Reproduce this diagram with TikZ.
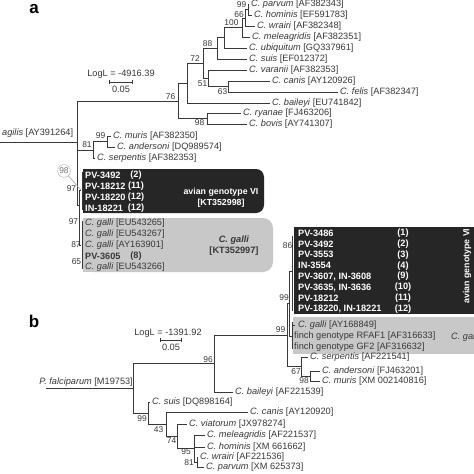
\documentclass[tikz,border=0pt]{standalone}
\usepackage{fontspec}
\setmainfont{Liberation Sans}
\usetikzlibrary{calc,arrows.meta}
\definecolor{treeInk}{HTML}{383838}
\definecolor{avianDark}{HTML}{262626}
\definecolor{galliGray}{HTML}{C8C8C8}
\newcommand{\spc}[2]{\textit{C. #1} [#2]}
\tikzset{
  branch/.style={draw=treeInk, line width=0.8pt},
  leaf/.style={anchor=west, inner sep=0pt, text=treeInk, font=\fontsize{9.2}{11}\selectfont},
  boot/.style={inner sep=0pt, text=treeInk, font=\fontsize{8.4}{10}\selectfont},
  rowlight/.style={anchor=west, inner sep=0pt, text=white, font=\fontsize{9.2}{11}\selectfont\bfseries},
  rowcount/.style={inner sep=0pt, text=white, font=\fontsize{9.2}{11}\selectfont\bfseries},
  panel/.style={inner sep=0pt, text=black, font=\fontsize{17}{17}\selectfont\bfseries},
  scalebar/.style={draw=treeInk, line width=0.8pt, {Bar[width=4pt]}-{Bar[width=4pt]}}
}
\begin{document}
\begin{tikzpicture}[x=1pt, y=-1pt]
  \clip (0,0) rectangle (474,474);
  \fill[white] (0,0) rectangle (474,474);
  % ================= panel a =================
  \node[panel] (la) at (34,9) {a};
  \node[leaf, anchor=center] (logA) at (121,74) {LogL = -4916.39};
  \coordinate (sbAl) at (109,82);
  \coordinate (sbAr) at (133,82);
  \draw[scalebar] (sbAl) -- (sbAr);
  \node[leaf, anchor=center] (sbAt) at (121,89) {0.05};
  % boxes
  \fill[avianDark, rounded corners=8pt] (83,169) rectangle (264,213);
  \fill[avianDark] (83,169) rectangle (110,213);
  \fill[galliGray, rounded corners=10pt] (83,218) rectangle (273,272);
  \fill[galliGray] (83,218) rectangle (110,272);
  % internal nodes
  \coordinate (ra)  at (77,142);
  \coordinate (a76) at (178,101);
  \coordinate (aX)  at (187,83);
  \coordinate (a72) at (203,63.5);
  \coordinate (a88) at (217,48);
  \coordinate (aU)  at (224,37.5);
  \coordinate (aM)  at (242,27.5);
  \coordinate (aW)  at (245,18);
  \coordinate (aP)  at (248,9.5);
  \coordinate (a51) at (208,78);
  \coordinate (a63) at (228,86.5);
  \coordinate (a98) at (207,118.5);
  \coordinate (a81) at (93,150);
  \coordinate (a99) at (107,141.5);
  \coordinate (aAG) at (79,205);
  \coordinate (aAv) at (81,190);
  \coordinate (aGa) at (81,245);
  \coordinate (agilisEnd) at (0,142);
  % leaves
  \node[leaf] (parvumA)  at (251,4)   {\spc{parvum}{AF382343}};
  \node[leaf] (hominisA) at (254,15)  {\spc{hominis}{EF591783}};
  \node[leaf] (wrairiA)  at (257,26)  {\spc{wrairi}{AF382348}};
  \node[leaf] (meleaA)   at (252,37)  {\spc{meleagridis}{AF382351}};
  \node[leaf] (ubiqA)    at (249,48)  {\spc{ubiquitum}{GQ337961}};
  \node[leaf] (suisA)    at (249,59)  {\spc{suis}{EF012372}};
  \node[leaf] (varaniiA) at (249,70)  {\spc{varanii}{AF382353}};
  \node[leaf] (canisA)   at (272,81)  {\spc{canis}{AY120926}};
  \node[leaf] (felisA)   at (340,92)  {\spc{felis}{AF382347}};
  \node[leaf] (baileyiA) at (272,103) {\spc{baileyi}{EU741842}};
  \node[leaf] (ryanaeA)  at (243,113) {\spc{ryanae}{FJ463206}};
  \node[leaf] (bovisA)   at (249,124) {\spc{bovis}{AY741307}};
  \node[leaf] (murisA)   at (113,136) {\spc{muris}{AF382350}};
  \node[leaf] (anderA)   at (117,147) {\spc{andersoni}{DQ989574}};
  \node[leaf] (serpA)    at (97,158)  {\spc{serpentis}{AF382353}};
  \node[leaf] (agilisA)  at (2,133)   {\textit{agilis} [AY391264]};
  % branches
  \draw[branch] (ra) -- (agilisEnd);
  \foreach \p/\c in {ra/a76, a76/aX, a76/a98, aX/a72, a72/a88, a72/a51, a88/aU,
      aU/aM, aM/aW, aW/aP, a51/a63, ra/a81, a81/a99, ra/aAG, aAG/aAv, aAG/aGa}
    \draw[branch] (\p) |- (\c);
  \foreach \p/\c in {aP/parvumA, aP/hominisA, aW/wrairiA, aM/meleaA, aU/ubiqA,
      a88/suisA, a51/varaniiA, a63/canisA, a63/felisA, aX/baileyiA, a98/ryanaeA,
      a98/bovisA, a99/murisA, a99/anderA, a81/serpA}
    \draw[branch] (\p) |- ([xshift=-2pt]\c.west);
  \draw[branch] (82,172) -- (82,210);
  \draw[branch] (82,221) -- (82,269);
  % bootstrap values
  \node[boot] (bA76)  at (170.5,96.5) {76};
  \node[boot] (bA72)  at (195,59)     {72};
  \node[boot] (bA88)  at (207.5,43.5) {88};
  \node[boot] (bA100) at (231.5,22.5) {100};
  \node[boot] (bA99)  at (241.5,4.5)  {99};
  \node[boot] (bA66)  at (239,14.5)   {66};
  \node[boot] (bA51)  at (202.5,83.5) {51};
  \node[boot] (bA63)  at (222.5,91.5) {63};
  \node[boot] (bA98)  at (199.5,123)  {98};
  \node[boot] (bA99b) at (100.5,135.5){99};
  \node[boot] (bA81)  at (87,144.5)   {81};
  \node[boot] (bA97)  at (71.5,189)   {97};
  \node[boot] (bA97b) at (73.5,222)   {97};
  \node[boot] (bA87)  at (76,245)     {87};
  \node[boot] (bA65)  at (76.5,261.5) {65};
  \node[boot, circle, draw=black!35, text=black!55, inner sep=0.6pt] (cA98) at (64,171) {98};
  \draw[black!35, line width=0.6pt] (cA98) -- (aAv);
  % avian genotype VI box (a)
  \foreach \n/\k/\y in {PV-3492/(2)/175, PV-18212/(11)/186, PV-18220/(12)/197, IN-18221/(12)/208} {
    \node[rowlight] at (85,\y) {\n};
    \node[rowcount] at (136,\y) {\k};
  }
  \node[rowcount, align=center, font=\fontsize{8.8}{10.5}\selectfont\bfseries] (avA) at (221,197.5)
    {avian genotype VI\\{[KT352998]}};
  % C. galli box (a)
  \node[leaf] (galA1) at (85,223) {\spc{galli}{EU543265}};
  \node[leaf] (galA2) at (85,234) {\spc{galli}{EU543267}};
  \node[leaf] (galA3) at (85,245) {\spc{galli}{AY163901}};
  \node[leaf, font=\fontsize{9.2}{11}\selectfont\bfseries] (pvA) at (85,256) {PV-3605};
  \node[boot, font=\fontsize{9.2}{11}\selectfont\bfseries] at (136,256) {(8)};
  \node[leaf] (galA4) at (85,267) {\spc{galli}{EU543266}};
  \node[boot, align=center, font=\fontsize{9.2}{11}\selectfont\bfseries] (gaA) at (234,245.5)
    {\textit{C. galli}\\{[KT352997]}};
  % ================= panel b =================
  \node[panel] (lb) at (34,321) {b};
  \node[leaf, anchor=center] (logB) at (168,333) {LogL = -1391.92};
  \coordinate (sbBl) at (160,340);
  \coordinate (sbBr) at (182,340);
  \draw[scalebar] (sbBl) -- (sbBr);
  \node[leaf, anchor=center] (sbBt) at (171,347) {0.05};
  % boxes
  \fill[avianDark] (294,227) rectangle (480,314);
  \fill[galliGray] (293,317) rectangle (480,354);
  % internal nodes
  \coordinate (rb)  at (133,388);
  \coordinate (b96) at (214,363);
  \coordinate (bL99) at (287,335);
  \coordinate (bU99) at (289,303);
  \coordinate (b86) at (292,271);
  \coordinate (bGa) at (292,336);
  \coordinate (b67) at (301,366);
  \coordinate (b98) at (310,376);
  \coordinate (b99) at (148,413);
  \coordinate (b43) at (166,424);
  \coordinate (b74) at (177,436);
  \coordinate (b95) at (194,448);
  \coordinate (b81) at (197,462);
  \coordinate (falcEnd) at (46,388);
  % leaves
  \node[leaf, anchor=east] (falcB) at (133,382) {\textit{P. falciparum} [M19753]};
  \node[leaf] (serpB)    at (310,357) {\spc{serpentis}{AF221541}};
  \node[leaf] (anderB)   at (322,371) {\spc{andersoni}{FJ463201}};
  \node[leaf] (murisB)   at (322,381) {\spc{muris}{XM 002140816}};
  \node[leaf] (baileyiB) at (235,392) {\spc{baileyi}{AF221539}};
  \node[leaf] (suisB)    at (152,402) {\spc{suis}{DQ898164}};
  \node[leaf] (canisB)   at (250,412) {\spc{canis}{AY120920}};
  \node[leaf] (viatB)    at (189,424) {\spc{viatorum}{JX978274}};
  \node[leaf] (meleaB)   at (207,435) {\spc{meleagridis}{AF221537}};
  \node[leaf] (hominisB) at (207,447) {\spc{hominis}{XM 661662}};
  \node[leaf] (wrairiB)  at (200,457) {\spc{wrairi}{AF221536}};
  \node[leaf] (parvumB)  at (206,467) {\spc{parvum}{XM 625373}};
  % branches
  \draw[branch] (rb) -- (falcEnd);
  \foreach \p/\c in {rb/b96, rb/b99, b96/bL99, bL99/bU99, bL99/b67, bU99/b86, bU99/bGa,
      b67/b98, b99/b43, b43/b74, b74/b95, b95/b81}
    \draw[branch] (\p) |- (\c);
  \foreach \p/\c in {b96/baileyiB, b67/serpB, b98/anderB, b98/murisB, b99/suisB,
      b43/canisB, b74/viatB, b95/meleaB, b95/hominisB, b81/wrairiB, b81/parvumB}
    \draw[branch] (\p) |- ([xshift=-2pt]\c.west);
  \draw[branch] (292,236) -- (292,311);
  \draw[branch] (292,322) -- (292,349);
  \draw[branch] (292,325) -- (295,325);
  % bootstrap values
  \node[boot] (bB96)  at (208,359.5) {96};
  \node[boot] (bB99a) at (280.5,330) {99};
  \node[boot] (bB99b) at (284,298)   {99};
  \node[boot] (bB86)  at (287.5,245.5) {86};
  \node[boot] (bB67)  at (296,371.5) {67};
  \node[boot] (bB98)  at (304,380.5) {98};
  \node[boot] (bB99c) at (142,419)   {99};
  \node[boot] (bB43)  at (158.5,429.5) {43};
  \node[boot] (bB74)  at (171.5,440.5) {74};
  \node[boot] (bB95)  at (186,451.5) {95};
  \node[boot] (bB81)  at (189,463)   {81};
  % avian genotype VI box (b)
  \foreach \n/\k [count=\i from 0] in {PV-3486/(1), PV-3492/(2), PV-3553/(3), IN-3554/(4),
      {PV-3607, IN-3608}/(9), {PV-3635, IN-3636}/(10), PV-18212/(11), {PV-18220, IN-18221}/(12)} {
    \node[rowlight] at (298,233+10.9*\i) {\n};
    \node[rowcount] at (403,233+10.9*\i) {\k};
  }
  \node[rowcount, rotate=90, font=\fontsize{8.8}{10.5}\selectfont\bfseries] (avB) at (467,266) {avian genotype VI};
  % C. galli box (b)
  \node[leaf] (galB1) at (298,325) {\spc{galli}{AY168849}};
  \node[leaf] (finB1) at (294,336.5) {finch genotype RFAF1 [AF316633]};
  \node[leaf] (finB2) at (294,347.5) {finch genotype GF2 [AF316632]};
  \node[leaf] (gaB) at (451,337) {\textit{C. galli}};
\end{tikzpicture}
\end{document}
